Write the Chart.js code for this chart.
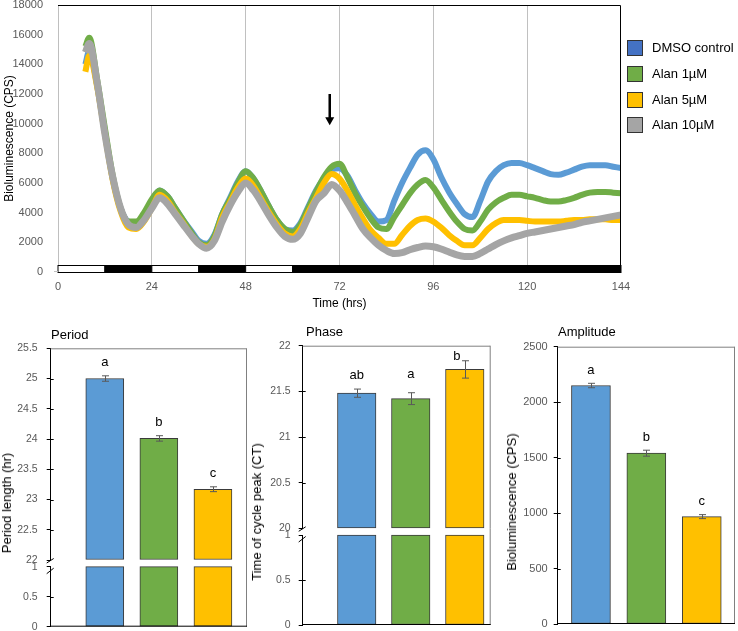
<!DOCTYPE html>
<html>
<head>
<meta charset="utf-8">
<script src="https://cdn.jsdelivr.net/npm/chart.js@4.4.1/dist/chart.umd.min.js"></script>
<style>
  body { margin: 0; background: #fff; width: 738px; height: 631px; position: relative; overflow: hidden;
         font-family: "Liberation Sans", Arial, sans-serif; }
  canvas { position: absolute; }
  .t { position: absolute; font-size: 13px; color: #000; white-space: nowrap; line-height: 16px; }
  .r { position: absolute; font-size: 13px; color: #000; white-space: nowrap; line-height: 16px;
       transform: translate(-50%, -50%) rotate(-90deg); }
  .lg { position: absolute; left: 627px; height: 16px; font-size: 13px; line-height: 16px; white-space: nowrap; }
  .lg span { display: inline-block; width: 14px; height: 14px; border: 1px solid #333; vertical-align: top; margin-right: 9px; }
</style>
</head>
<body>
<canvas id="lineChart" width="640" height="315" style="left:0;top:0"></canvas>
<div id="legend"></div>

<canvas id="perTop" width="250" height="230" style="left:0;top:340px"></canvas>
<canvas id="perBot" width="250" height="76" style="left:0;top:555px"></canvas>
<canvas id="phaTop" width="245" height="200" style="left:250px;top:338px"></canvas>
<canvas id="phaBot" width="245" height="106" style="left:250px;top:525px"></canvas>
<canvas id="ampChart" width="243" height="293" style="left:495px;top:338px"></canvas>

<div class="t" style="left:51px;top:327px">Period</div>
<div class="t" style="left:306px;top:324px">Phase</div>
<div class="t" style="left:558px;top:324px">Amplitude</div>
<div class="r" style="left:7px;top:503px">Period length (hr)</div>
<div class="r" style="left:257px;top:512px">Time of cycle peak (CT)</div>
<div class="r" style="left:512px;top:502px">Bioluminescence (CPS)</div>

<script>
Chart.defaults.font.family = '"Liberation Sans", Arial, sans-serif';

// ---- time course ----
const hours = [7, 8, 10, 12, 14, 16, 18, 20, 22, 24, 26, 28, 30, 32, 34, 36, 38, 40, 42, 44, 46, 48,
  50, 52, 54, 56, 58, 60, 62, 64, 66, 68, 70, 72, 74, 76, 78, 80, 82, 84, 86, 88, 90, 92, 94, 96, 98,
  100, 102, 104, 106, 108, 110, 112, 114, 116, 118, 120, 122, 124, 126, 128, 130, 132, 134, 136, 138,
  140, 142, 144];
const dmso = [14000, 14900, 12600, 9400, 6300, 4300, 3400, 3300, 3900, 4800, 5500, 5100, 4300, 3500, 2800,
  2100, 1900, 2500, 3900, 5000, 6100, 6800, 6300, 5400, 4400, 3500, 2900, 2800, 3300, 4400, 5500, 6300,
  6900, 7000, 6500, 5500, 4600, 3900, 3400, 3500, 4800, 6000, 7000, 7900, 8200, 7600, 6400, 5400, 4600,
  3900, 3700, 4800, 6100, 6800, 7200, 7350, 7350, 7200, 7000, 6800, 6600, 6550, 6700, 6900, 7100, 7200,
  7200, 7200, 7100, 7000];
const alan1 = [15200, 15800, 13000, 9700, 6500, 4300, 3400, 3400, 4000, 4900, 5500, 5100, 4300, 3500, 2700,
  2000, 1800, 2400, 3900, 4900, 6000, 6800, 6300, 5400, 4400, 3500, 2900, 2700, 3200, 4300, 5400, 6400,
  7100, 7300, 6400, 5300, 4400, 3600, 3000, 2900, 3700, 4500, 5300, 5900, 6200, 5700, 4900, 4100, 3400,
  2900, 2800, 3400, 4200, 4700, 5000, 5200, 5200, 5100, 5000, 4850, 4750, 4750, 4850, 5000, 5200, 5350,
  5400, 5400, 5350, 5300];
const alan5 = [13500, 14600, 12500, 9300, 6200, 4100, 3000, 2900, 3400, 4300, 5200, 4800, 4000, 3300, 2500,
  1900, 1700, 2200, 3700, 4700, 5700, 6300, 5800, 4900, 4000, 3200, 2600, 2400, 2900, 4000, 5000, 6000,
  6600, 6300, 5500, 4500, 3600, 2800, 2300, 1900, 1900, 2500, 3100, 3500, 3600, 3400, 3000, 2500, 2100,
  1800, 1800, 2300, 2900, 3300, 3500, 3500, 3500, 3450, 3400, 3400, 3400, 3400, 3450, 3500, 3500, 3550,
  3550, 3550, 3500, 3500];
const alan10 = [14800, 15400, 12800, 9300, 6400, 4300, 3200, 3000, 3500, 4300, 5000, 4600, 3900, 3200, 2500,
  1900, 1600, 2100, 3400, 4500, 5400, 6000, 5500, 4700, 3800, 3000, 2400, 2200, 2600, 3700, 4800, 5300,
  5900, 5500, 4700, 3800, 2900, 2300, 1800, 1450, 1250, 1300, 1500, 1650, 1750, 1700, 1550, 1350, 1150,
  1050, 1050, 1250, 1550, 1850, 2100, 2300, 2450, 2600, 2700, 2800, 2900, 3000, 3100, 3200, 3350, 3450,
  3550, 3650, 3750, 3850];
const seriesNames = ['DMSO control', 'Alan 1µM', 'Alan 5µM', 'Alan 10µM'];
const seriesValues = [dmso, alan1, alan5, alan10];
const lineColors = ['#5b9bd5', '#70ad47', '#ffc000', '#a5a5a5'];
const legendColors = ['#4472c4', '#70ad47', '#ffc000', '#a5a5a5'];
const xTicks = [0, 24, 48, 72, 96, 120, 144];
const yTicks = [0, 2000, 4000, 6000, 8000, 10000, 12000, 14000, 16000, 18000];
const lightEdges = [0, 12, 24, 36, 48, 60, 144];
const lightStates = ['L', 'D', 'L', 'D', 'L', 'D'];
const lightBarTop = 500;
const arrowAt = [69.5, 12000, 9900];

// ---- summary bars ----
const treatments = ['DMSO control', 'Alan 1µM', 'Alan 5µM'];
const barColors = ['#5b9bd5', '#70ad47', '#ffc000'];
const periodMean = [25.0, 24.01, 23.17];
const periodErr = [0.045, 0.045, 0.04];
const periodLetters = ['a', 'b', 'c'];
const periodTicks = [22, 22.5, 23, 23.5, 24, 24.5, 25, 25.5];
const phaseMean = [21.48, 21.42, 21.74];
const phaseErr = [0.045, 0.065, 0.095];
const phaseLetters = ['ab', 'a', 'b'];
const phaseTicks = [20, 20.5, 21, 21.5, 22];
const lowTicks = [0, 0.5, 1];
const ampMean = [2150, 1540, 968];
const ampErr = [20, 27, 18];
const ampLetters = ['a', 'b', 'c'];
const ampTicks = [0, 500, 1000, 1500, 2000, 2500];

// legend
const legendEl = document.getElementById('legend');
const legendTops = [40, 66, 92, 117];
seriesNames.forEach((name, k) => {
  const d = document.createElement('div');
  d.className = 'lg';
  d.style.top = legendTops[k] + 'px';
  d.innerHTML = '<span style="background:' + legendColors[k] + '"></span>' + name;
  legendEl.appendChild(d);
});

const plain = v => String(v);

const lightDarkPlugin = {
  id: 'lightDark',
  beforeDatasetsDraw(chart) {
    const { ctx, scales: { x, y } } = chart;
    const y0 = Math.round(y.getPixelForValue(lightBarTop)) + 0.5;
    const y1 = Math.round(y.getPixelForValue(0)) + 0.5;
    ctx.save();
    ctx.lineWidth = 1;
    ctx.strokeStyle = '#000';
    for (let i = 0; i < lightStates.length; i++) {
      const x0 = x.getPixelForValue(lightEdges[i]);
      const x1 = x.getPixelForValue(lightEdges[i + 1]);
      ctx.fillStyle = lightStates[i] === 'L' ? '#fff' : '#000';
      ctx.fillRect(x0, y0, x1 - x0, y1 - y0);
      ctx.strokeRect(x0, y0, x1 - x0, y1 - y0);
    }
    ctx.restore();
  }
};

const frameArrowPlugin = {
  id: 'frameArrow',
  afterDraw(chart) {
    const { ctx, chartArea: a, scales: { x, y } } = chart;
    ctx.save();
    ctx.strokeStyle = '#000';
    ctx.lineWidth = 1;
    ctx.beginPath();
    ctx.moveTo(a.left, a.top + 0.5);
    ctx.lineTo(a.right - 0.5, a.top + 0.5);
    ctx.lineTo(a.right - 0.5, a.bottom);
    ctx.stroke();
    // small tick at zero on the value axis
    ctx.strokeStyle = '#bfbfbf';
    ctx.beginPath();
    ctx.moveTo(a.left - 4, Math.round(a.bottom) - 0.5);
    ctx.lineTo(a.left, Math.round(a.bottom) - 0.5);
    ctx.stroke();
    // arrow
    const ax = x.getPixelForValue(arrowAt[0]);
    const ay0 = y.getPixelForValue(arrowAt[1]);
    const ay1 = y.getPixelForValue(arrowAt[2]);
    ctx.strokeStyle = '#000';
    ctx.lineWidth = 2.5;
    ctx.beginPath();
    ctx.moveTo(ax, ay0);
    ctx.lineTo(ax, ay1 - 7);
    ctx.stroke();
    ctx.fillStyle = '#000';
    ctx.beginPath();
    ctx.moveTo(ax - 4.5, ay1 - 8);
    ctx.lineTo(ax + 4.5, ay1 - 8);
    ctx.lineTo(ax, ay1);
    ctx.closePath();
    ctx.fill();
    ctx.restore();
  }
};

new Chart(document.getElementById('lineChart'), {
  type: 'line',
  data: {
    datasets: seriesNames.map((name, k) => ({
      label: name,
      data: hours.map((h, i) => ({ x: h, y: seriesValues[k][i] })),
      borderColor: lineColors[k],
      backgroundColor: lineColors[k],
      borderWidth: k === 3 ? 7 : 6,
      pointRadius: 0,
      cubicInterpolationMode: 'monotone',
      fill: false,
      order: 4 - k
    }))
  },
  options: {
    responsive: false,
    animation: false,
    layout: { padding: { top: 5, right: 19, left: 0, bottom: 0 } },
    plugins: { legend: { display: false }, tooltip: { enabled: false } },
    scales: {
      x: {
        type: 'linear', min: 0, max: 144,
        afterBuildTicks: s => { s.ticks = xTicks.map(v => ({ value: v })); },
        afterFit: s => { s.height = 43; s.paddingLeft = 0; s.paddingRight = 0; },
        grid: {
          color: c => (c.tick && c.tick.value > 0 && c.tick.value < 144) ? '#c0c0c0' : 'rgba(0,0,0,0)',
          drawTicks: false
        },
        border: { display: false },
        ticks: { color: '#595959', font: { size: 11 }, padding: 8, callback: plain },
        title: { display: true, text: 'Time (hrs)', color: '#000', font: { size: 12 }, padding: { top: 2, bottom: 4 } }
      },
      y: {
        min: 0, max: 18000,
        afterBuildTicks: s => { s.ticks = yTicks.map(v => ({ value: v })); },
        afterFit: s => { s.width = 58; s.paddingTop = 0; s.paddingBottom = 0; },
        grid: { display: false },
        border: { display: true, color: '#bfbfbf' },
        ticks: { color: '#595959', font: { size: 11 }, padding: 7, callback: plain },
        title: { display: true, text: 'Bioluminescence (CPS)', color: '#000', font: { size: 12 }, padding: { top: 2, bottom: 0 } }
      }
    }
  },
  plugins: [lightDarkPlugin, frameArrowPlugin]
});

function panelPlugin(o) {
  return {
    id: 'panel',
    afterDatasetsDraw(chart) {
      const { ctx, chartArea: a, scales: { x, y } } = chart;
      ctx.save();
      ctx.lineWidth = 1;
      ctx.strokeStyle = '#808080';
      ctx.beginPath();
      if (o.top) {
        ctx.moveTo(a.left, a.top + 0.5);
        ctx.lineTo(a.right - 0.5, a.top + 0.5);
      }
      ctx.moveTo(a.right - 0.5, a.top - (o.rightUp || 0));
      ctx.lineTo(a.right - 0.5, a.bottom);
      ctx.stroke();
      ctx.strokeStyle = '#000';
      // inner half of the crossing tick marks
      ctx.beginPath();
      y.ticks.forEach(t => {
        const ty = Math.round(y.getPixelForValue(t.value)) + 0.5;
        if (ty > a.top + 1 && ty < a.bottom - 1) {
          ctx.moveTo(a.left, ty);
          ctx.lineTo(a.left + 3, ty);
        }
      });
      ctx.stroke();
      if (o.bottom) {
        ctx.beginPath();
        ctx.moveTo(a.left, a.bottom - 0.5);
        ctx.lineTo(a.right, a.bottom - 0.5);
        ctx.stroke();
      }
      if (o.breakBelow) {
        ctx.beginPath();
        ctx.moveTo(a.left - 4, a.bottom + 3);
        ctx.lineTo(a.left + 3, a.bottom - 1.5);
        ctx.stroke();
      }
      if (o.breakAbove) {
        ctx.beginPath();
        ctx.moveTo(a.left - 4, a.top + 7);
        ctx.lineTo(a.left + 3, a.top + 1.5);
        ctx.stroke();
      }
      if (o.err) {
        ctx.strokeStyle = '#595959';
        o.mean.forEach((m, i) => {
          const cx = Math.round(x.getPixelForValue(i + 1)) + 0.5;
          const y1 = y.getPixelForValue(m + o.err[i]);
          const y2 = y.getPixelForValue(m - o.err[i]);
          ctx.beginPath();
          ctx.moveTo(cx, y1); ctx.lineTo(cx, y2);
          ctx.moveTo(cx - 3.5, y1); ctx.lineTo(cx + 3.5, y1);
          ctx.moveTo(cx - 3.5, y2); ctx.lineTo(cx + 3.5, y2);
          ctx.stroke();
        });
        ctx.fillStyle = '#000';
        ctx.font = '13px "Liberation Sans", Arial, sans-serif';
        ctx.textAlign = 'center';
        ctx.textBaseline = 'middle';
        o.letters.forEach((t, i) => {
          const cy = y.getPixelForValue(o.mean[i] + o.err[i]) - o.lift[i];
          ctx.fillText(t, x.getPixelForValue(i + 1) + (o.dx ? o.dx[i] : 0), cy);
        });
      }
      ctx.restore();
    }
  };
}

function makeBar(id, p) {
  return new Chart(document.getElementById(id), {
    type: 'bar',
    data: {
      datasets: [{
        label: 'mean',
        data: p.values.map((v, i) => ({ x: i + 1, y: v })),
        base: p.base,
        backgroundColor: barColors,
        borderColor: '#3a3a3a',
        borderWidth: 1,
        borderSkipped: false,
        barThickness: p.barWidth,
        clip: false
      }]
    },
    options: {
      responsive: false,
      animation: false,
      layout: { padding: p.padding },
      plugins: { legend: { display: false }, tooltip: { enabled: false } },
      scales: {
        x: { type: 'linear', min: p.xMin, max: p.xMax, offset: false, display: false },
        y: {
          min: p.yMin, max: p.yMax,
          afterBuildTicks: s => { s.ticks = p.ticks.map(v => ({ value: v })); },
          afterFit: s => { s.width = p.axisWidth; s.paddingTop = 0; s.paddingBottom = 0; },
          grid: { display: true, drawOnChartArea: false, drawTicks: true, tickLength: 4, tickColor: '#000' },
          border: { display: true, color: '#000' },
          ticks: { color: '#595959', font: { size: p.tickSize }, padding: p.tickPad, callback: plain }
        }
      }
    },
    plugins: [panelPlugin(p.panel)]
  });
}

const lift = n => treatments.map(() => n);

// Period
makeBar('perTop', {
  values: periodMean, base: 22, yMin: 22, yMax: 25.5, ticks: periodTicks,
  xMin: 0, xMax: 3.63, barWidth: 38, axisWidth: 50.7, tickSize: 10.5, tickPad: 9,
  padding: { top: 8.3, bottom: 10, right: 3, left: 0 },
  panel: { top: true, breakBelow: true, mean: periodMean, err: periodErr, letters: periodLetters, lift: lift(13) }
});
makeBar('perBot', {
  values: periodMean.map(v => Math.min(v, 1)), base: 0, yMin: 0, yMax: 1, ticks: lowTicks,
  xMin: 0, xMax: 3.63, barWidth: 38, axisWidth: 50.7, tickSize: 10.5, tickPad: 9,
  padding: { top: 11.7, bottom: 4.3, right: 3, left: 0 },
  panel: { bottom: true, breakAbove: true, rightUp: 6.7 }
});

// Phase
makeBar('phaTop', {
  values: phaseMean, base: 20, yMin: 20, yMax: 22, ticks: phaseTicks,
  xMin: 0, xMax: 3.48, barWidth: 38.5, axisWidth: 52.7, tickSize: 10.5, tickPad: 8,
  padding: { top: 7.7, bottom: 9.7, right: 4.3, left: 0 },
  panel: { top: true, breakBelow: true, mean: phaseMean, err: phaseErr, letters: phaseLetters,
           lift: [14, 18, 4], dx: [0, 0, -8] }
});
makeBar('phaBot', {
  values: phaseMean.map(v => Math.min(v, 1)), base: 0, yMin: 0, yMax: 1, ticks: lowTicks,
  xMin: 0, xMax: 3.48, barWidth: 38.5, axisWidth: 52.7, tickSize: 10.5, tickPad: 8,
  padding: { top: 10, bottom: 6, right: 4.3, left: 0 },
  panel: { bottom: true, breakAbove: true, rightUp: 6.7 }
});

// Amplitude
makeBar('ampChart', {
  values: ampMean, base: 0, yMin: 0, yMax: 2500, ticks: ampTicks,
  xMin: 0.4, xMax: 3.6, barWidth: 39, axisWidth: 62.7, tickSize: 11, tickPad: 6,
  padding: { top: 8.7, bottom: 7, right: 3, left: 0 },
  panel: { top: true, bottom: true, mean: ampMean, err: ampErr, letters: ampLetters, lift: lift(13) }
});
</script>
</body>
</html>
